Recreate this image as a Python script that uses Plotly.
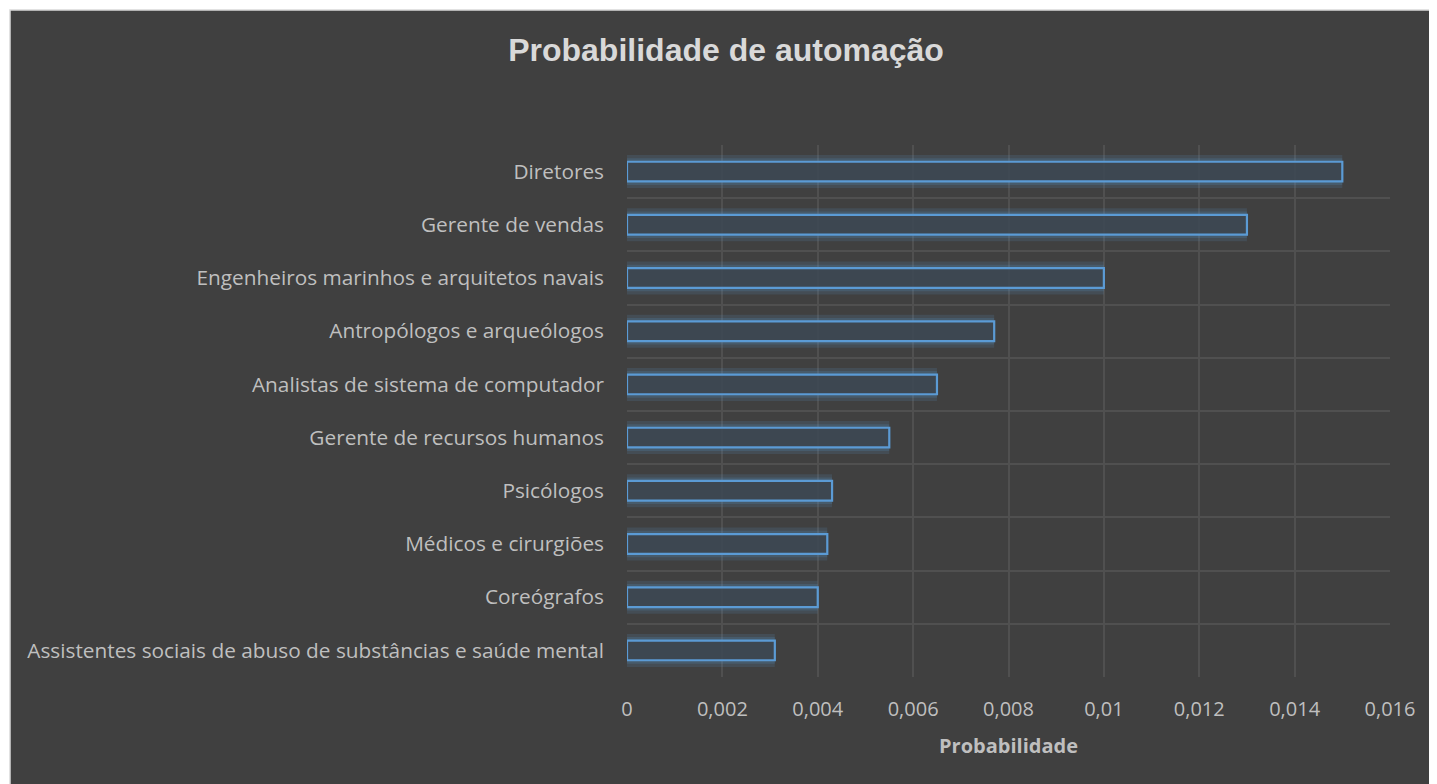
import plotly.graph_objects as go

categories = [
    "Diretores",
    "Gerente de vendas",
    "Engenheiros marinhos e arquitetos navais",
    "Antropólogos e arqueólogos",
    "Analistas de sistema de computador",
    "Gerente de recursos humanos",
    "Psicólogos",
    "Médicos e cirurgiões",
    "Coreógrafos",
    "Assistentes sociais de abuso de substâncias e saúde mental",
]
probabilidade = [0.015, 0.013, 0.010, 0.0077, 0.0065, 0.0055, 0.0043, 0.0042, 0.0040, 0.0031]

tick_vals = [0, 0.002, 0.004, 0.006, 0.008, 0.010, 0.012, 0.014, 0.016]
tick_text = ["0", "0,002", "0,004", "0,006", "0,008", "0,01", "0,012", "0,014", "0,016"]

BG = "#404040"
TXT = "#bfbfbf"
GRID = "#505050"
BLUE = "#5b9bd5"

fig = go.Figure()
# glow layers
fig.add_trace(go.Bar(
    x=probabilidade, y=categories, orientation="h", width=0.62,
    marker=dict(color="rgba(91,155,213,0.14)", line=dict(width=0)),
    hoverinfo="skip", showlegend=False,
))
fig.add_trace(go.Bar(
    x=probabilidade, y=categories, orientation="h", width=0.5,
    marker=dict(color="rgba(91,155,213,0.18)", line=dict(width=0)),
    hoverinfo="skip", showlegend=False,
))
# main outlined bar
fig.add_trace(go.Bar(
    x=probabilidade, y=categories, orientation="h", width=0.37,
    marker=dict(color="rgba(58,64,72,0.75)", line=dict(color=BLUE, width=2.2)),
    showlegend=False,
))

# page body has an 8px margin, so the figure is offset by 8px
OFF = 8
W, H = 1437 - OFF, 784 - OFF
L, R, T, B = 627 - OFF, 47, 145 - OFF, 107
pw, ph = W - L - R, H - T - B

fig.add_shape(
    type="rect", xref="paper", yref="paper", layer="below",
    x0=(10 - OFF - L) / pw, x1=(W + 20 - L) / pw,
    y0=(H - B - (H + 20)) / ph, y1=(H - B - (10 - OFF)) / ph,
    fillcolor=BG, line=dict(color="#d9d9d9", width=1.5),
)

fig.update_layout(
    width=W, height=H,
    margin=dict(l=L, r=R, t=T, b=B),
    paper_bgcolor="white",
    plot_bgcolor=BG,
    barmode="overlay",
    separators=",.",
    title=dict(
        text="<b>Probabilidade de automação</b>",
        x=(726 - OFF) / W, xanchor="center", y=1 - (50 - OFF) / H, yanchor="middle",
        font=dict(family="Liberation Sans, Arial", size=32, color="#d9d9d9"),
    ),
    font=dict(family="Open Sans", color=TXT),
    xaxis=dict(
        range=[0, 0.016], tickvals=tick_vals, ticktext=tick_text,
        showgrid=True, gridcolor=GRID, gridwidth=1.5, zeroline=False,
        showline=False, ticks="", ticklabelstandoff=18,
        tickfont=dict(family="Open Sans", size=20, color=TXT),
        title=dict(text="<b>Probabilidade</b>", standoff=17,
                   font=dict(family="Open Sans", size=20, color=TXT)),
    ),
    yaxis=dict(
        autorange="reversed", type="category", tickson="boundaries",
        showgrid=True, gridcolor=GRID, gridwidth=1.5, showline=False,
        ticks="", ticklabelstandoff=22,
        tickfont=dict(family="Open Sans", size=20.8, color=TXT),
    ),
)

fig.write_html("out.html")
